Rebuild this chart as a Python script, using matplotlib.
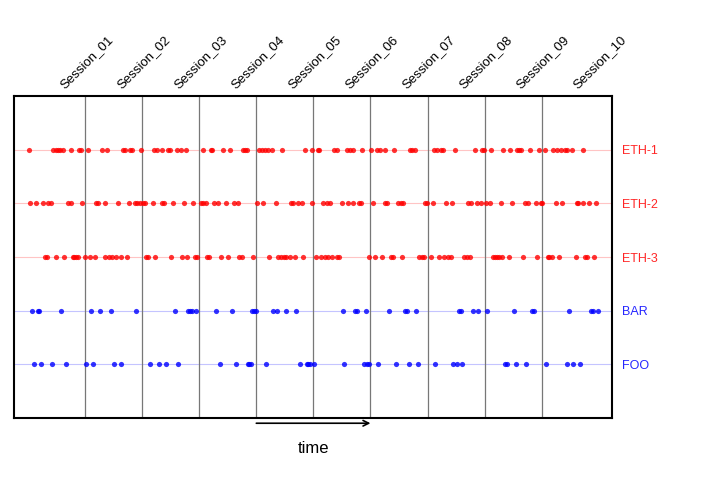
import numpy as np
import matplotlib.pyplot as plt

plt.rcParams['font.family'] = ['Liberation Sans', 'DejaVu Sans']

# event times (same unit as the session length below)
session_len = 57.1
sessions = ['Session_%02d' % i for i in range(1, 11)]

eth1 = [1, 25, 28, 30, 32, 35, 43, 51, 53, 60, 74, 79, 95, 97, 102, 104, 113, 126, 129,
        134, 140, 142, 149, 153, 158, 175, 183, 184, 195, 202, 215, 217, 219, 231, 234,
        237, 240, 244, 254, 277, 284, 290, 291, 306, 309, 319, 322, 325, 334, 343, 349,
        352, 357, 366, 382, 384, 387, 406, 409, 413, 415, 427, 447, 454, 456, 463, 475,
        482, 489, 491, 493, 502, 511, 517, 525, 529, 533, 537, 539, 544, 555]
eth2 = [2, 8, 15, 20, 23, 40, 43, 54, 68, 70, 77, 90, 101, 107, 109, 112, 115, 117, 125,
        134, 136, 145, 156, 165, 173, 175, 178, 186, 190, 198, 206, 210, 229, 235, 248,
        263, 265, 270, 274, 284, 295, 299, 302, 314, 320, 325, 331, 333, 345, 357, 359,
        370, 373, 375, 397, 399, 405, 418, 424, 440, 443, 449, 453, 458, 462, 473, 484,
        497, 500, 508, 513, 514, 528, 534, 549, 550, 555, 561, 568]
eth3 = [17, 19, 28, 36, 45, 46, 48, 50, 57, 62, 67, 77, 81, 84, 88, 93, 99, 118, 120, 127,
        143, 154, 159, 167, 169, 179, 181, 193, 200, 211, 214, 225, 241, 250, 253, 256,
        258, 262, 267, 275, 288, 293, 297, 300, 304, 309, 311, 341, 347, 354, 363, 365,
        374, 391, 394, 396, 403, 411, 416, 420, 423, 436, 439, 442, 465, 467, 469, 471,
        474, 481, 495, 509, 520, 521, 524, 531, 548, 557, 559, 566]
bar = [4, 10, 11, 33, 63, 72, 83, 108, 147, 160, 162, 164, 168, 188, 204, 224, 226, 228,
       245, 249, 258, 268, 315, 327, 329, 338, 361, 377, 379, 388, 431, 433, 445, 450,
       459, 486, 504, 506, 541, 563, 565, 570]
foo = [6, 13, 24, 38, 58, 65, 86, 93, 122, 131, 138, 150, 192, 208, 220, 221, 223, 238,
       272, 279, 280, 282, 286, 316, 336, 339, 341, 350, 368, 381, 390, 407, 425, 429,
       434, 477, 479, 488, 498, 518, 539, 545, 552]

names = ['ETH-1', 'ETH-2', 'ETH-3', 'BAR', 'FOO']
events = [eth1, eth2, eth3, bar, foo]
colors = ['red', 'red', 'red', 'blue', 'blue']
line_colors = ['#ffc4c4', '#ffc4c4', '#ffc4c4', '#c4c4ff', '#c4c4ff']

fig = plt.figure(figsize=(7.2, 4.8), dpi=100)
ax = fig.add_axes([0.0194, 0.129, 0.8303, 0.671])

n = len(names)
for i, (name, ev) in enumerate(zip(names, events)):
    y = n - i
    ax.axhline(y, color=line_colors[i], lw=0.8, zorder=1)
    ax.scatter(ev, np.full(len(ev), y), s=14, color=colors[i], alpha=0.8,
               linewidths=0, zorder=3)

for k in range(1, 10):
    ax.axvline(k * session_len, color='#777777', lw=0.9, zorder=2)

for k, s in enumerate(sessions):
    ax.text((k + 0.5) * session_len + 1, 1.015, s, rotation=45, ha='left', va='bottom',
            fontsize=9.5, transform=ax.get_xaxis_transform())

ax.set_xlim(-14, 584)
ax.set_ylim(0, n + 1)
ax.set_xticks([])
ax.yaxis.tick_right()
ax.set_yticks(range(n, 0, -1))
ax.set_yticklabels(names, fontsize=9)
ax.tick_params(axis='y', length=0, pad=7.5)
for lbl, c in zip(ax.get_yticklabels(), colors):
    lbl.set_color(c)
    lbl.set_alpha(0.85)
for sp in ax.spines.values():
    sp.set_linewidth(1.5)

ax.annotate('', xy=(6 * session_len, -0.016), xytext=(4 * session_len, -0.016),
            xycoords=ax.get_xaxis_transform(),
            arrowprops=dict(arrowstyle='->', color='black', lw=1.2, shrinkA=0, shrinkB=0),
            annotation_clip=False)
ax.text(5 * session_len, -0.095, 'time', ha='center', va='center', fontsize=12,
        transform=ax.get_xaxis_transform())

fig.savefig('out.png', dpi=100)
